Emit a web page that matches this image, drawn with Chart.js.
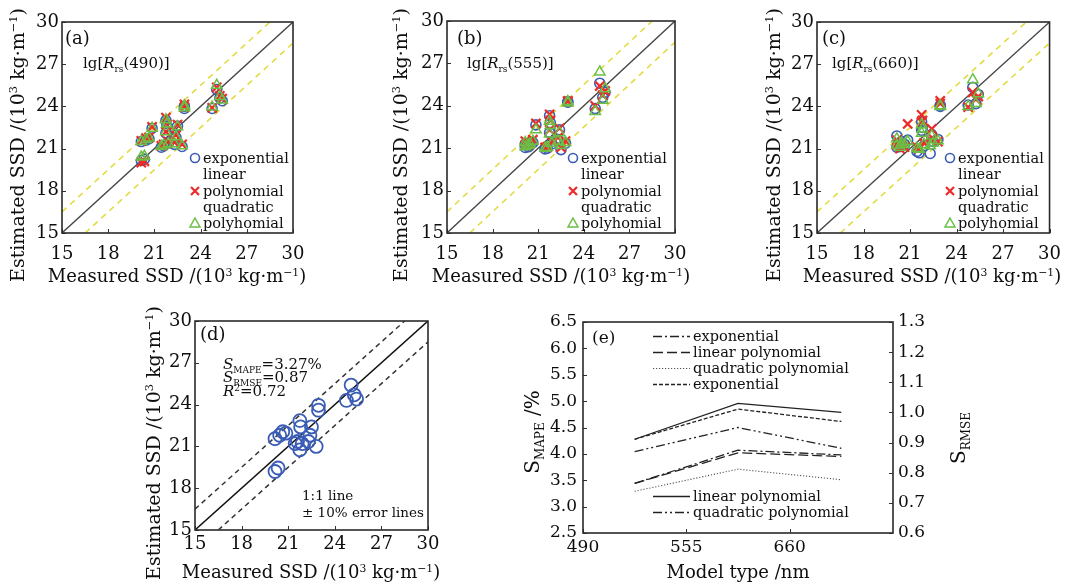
<!DOCTYPE html>
<html>
<head>
<meta charset="utf-8">
<title>SSD model comparison</title>
<script src="https://cdn.jsdelivr.net/npm/chart.js@4.4.1/dist/chart.umd.min.js"></script>
<style>
  html, body { margin: 0; padding: 0; background: #fff; }
  #page { position: relative; width: 1072px; height: 587px; overflow: hidden; background: #fff; }
  #page canvas { position: absolute; }
</style>
</head>
<body>
<div id="page">
  <canvas id="chartA" width="355" height="290" style="left:0;top:0"></canvas>
  <canvas id="chartB" width="355" height="290" style="left:355px;top:0"></canvas>
  <canvas id="chartC" width="362" height="290" style="left:710px;top:0"></canvas>
  <canvas id="chartD" width="320" height="297" style="left:140px;top:290px"></canvas>
  <canvas id="chartE" width="602" height="297" style="left:470px;top:290px"></canvas>
</div>
<script>
var FONT_FAMILY = '"DejaVu Serif", "Liberation Serif", serif';
var INK = '#0e0e0e';

// measured SSD of the samples, 10^3 kg/m (same samples in every panel)
var measured = [20.15, 20.45, 20.65, 20.85, 20.15, 20.35, 21.45, 21.6, 21.75, 21.75, 21.8,
                21.9, 22.3, 22.4, 22.5, 22.8, 22.95, 22.95, 24.75, 25.05, 25.25, 25.4];

// estimated SSD, lg[Rrs(490)] models
var exp490  = [21.5, 21.6, 21.7, 22.45, 20.15, 20.25, 21.1, 21.2, 22.1, 23.0, 22.6,
               21.4, 21.3, 21.8, 22.6, 21.15, 23.85, 24.0, 23.85, 25.2, 24.6, 24.4];
var lin490  = [21.55, 21.75, 21.8, 22.55, 20.0, 20.1, 21.2, 21.3, 22.2, 23.2, 22.7,
               21.5, 21.45, 21.95, 22.7, 21.3, 23.95, 24.15, 23.9, 25.35, 24.75, 24.55];
var quad490 = [21.5, 21.65, 21.75, 22.45, 20.4, 20.45, 21.15, 21.25, 22.2, 23.05, 22.75,
               21.35, 21.35, 21.85, 22.55, 21.2, 23.9, 24.05, 23.95, 25.5, 24.7, 24.45];

// lg[Rrs(555)] models
var exp555  = [21.3, 21.2, 21.4, 22.65, 21.05, 21.1, 20.95, 21.0, 22.1, 23.3, 22.8,
               21.3, 21.6, 22.3, 20.9, 21.35, 24.3, 24.25, 23.8, 25.6, 24.6, 24.95];
var lin555  = [21.5, 21.35, 21.6, 22.75, 21.2, 21.25, 21.05, 21.1, 22.3, 23.4, 22.95,
               21.45, 21.75, 22.4, 21.05, 21.5, 24.35, 24.3, 24.0, 25.4, 24.75, 25.05];
var quad555 = [21.4, 21.3, 21.5, 22.3, 21.1, 21.2, 21.0, 21.05, 22.0, 22.9, 22.6,
               21.35, 21.5, 22.1, 21.2, 21.4, 24.3, 24.2, 23.6, 26.4, 24.4, 25.2];

// lg[Rrs(660)] models
var exp660  = [21.9, 21.5, 21.3, 21.6, 21.1, 21.15, 20.8, 20.7, 22.3, 22.9, 22.5,
               21.2, 20.65, 22.0, 21.5, 21.65, 24.1, 24.0, 24.1, 25.35, 24.2, 24.85];
var lin660  = [21.6, 21.2, 21.1, 22.75, 21.3, 21.0, 21.1, 21.0, 22.9, 23.4, 23.0,
               21.4, 21.6, 22.4, 21.7, 21.5, 24.4, 24.2, 23.95, 25.0, 24.5, 24.7];
var quad660 = [21.7, 21.4, 21.3, 21.5, 21.25, 21.1, 21.0, 20.95, 22.1, 22.7, 22.4,
               21.3, 21.2, 21.9, 21.4, 21.55, 24.05, 24.0, 24.0, 25.9, 24.2, 24.9];

// (d) best model
var bestModel = [21.55, 21.8, 22.05, 21.95, 19.2, 19.45, 21.2, 21.35, 20.75, 22.85, 22.4,
                 21.2, 21.35, 21.8, 22.4, 21.0, 23.95, 23.6, 24.3, 25.4, 24.7, 24.4];

var ssdRange = [15, 30];
var ssdTicks = [15, 18, 21, 24, 27, 30];
var errorOffset = 1.5;

// (e) error statistics per band
var bands = ['490', '555', '660'];
var mapeExp  = [3.44, 4.07, 3.98];
var mapeLin  = [3.44, 4.02, 3.95];
var mapeQuad = [3.29, 3.71, 3.51];
var rmseExp  = [0.911, 1.011, 0.970];
var rmseLin  = [0.911, 1.030, 1.000];
var rmseQuad = [0.870, 0.950, 0.881];
var mapeTicks = [2.5, 3.0, 3.5, 4.0, 4.5, 5.0, 5.5, 6.0, 6.5];
var rmseTicks = [0.6, 0.7, 0.8, 0.9, 1.0, 1.1, 1.2, 1.3];

var BLUE = '#3a5cb5', RED = '#ec2a2a', GREEN = '#6abf45', YELLOW = '#e2dc44';

function pairs(ys) {
  return measured.map(function (x, i) { return { x: x, y: ys[i] }; });
}

function richText(ctx, segs, x, y, size, align, vertical) {
  var fontOf = function (k) {
    var px = (k === 'b' || k === 'p') ? size * 0.6 : size;
    return (k === 'i' ? 'italic ' : '') + px.toFixed(1) + 'px ' + FONT_FAMILY;
  };
  var width = 0;
  segs.forEach(function (s) { ctx.font = fontOf(s[1]); width += ctx.measureText(s[0]).width; });
  ctx.save();
  ctx.translate(x, y);
  if (vertical) ctx.rotate(-Math.PI / 2);
  ctx.fillStyle = INK;
  ctx.textBaseline = 'alphabetic';
  ctx.textAlign = 'left';
  var cx = align === 'center' ? -width / 2 : (align === 'right' ? -width : 0);
  var base = size * 0.36;
  segs.forEach(function (s) {
    ctx.font = fontOf(s[1]);
    var dy = s[1] === 'b' ? size * 0.22 : (s[1] === 'p' ? -size * 0.38 : 0);
    ctx.fillText(s[0], cx, base + dy);
    cx += ctx.measureText(s[0]).width;
  });
  ctx.restore();
}

function drawMark(ctx, kind, x, y) {
  ctx.save();
  ctx.beginPath();
  if (kind === 'circle') {
    ctx.strokeStyle = BLUE; ctx.lineWidth = 1.6;
    ctx.arc(x, y, 4.5, 0, Math.PI * 2);
  } else if (kind === 'cross') {
    ctx.strokeStyle = RED; ctx.lineWidth = 2.2;
    ctx.moveTo(x - 4, y - 4); ctx.lineTo(x + 4, y + 4);
    ctx.moveTo(x + 4, y - 4); ctx.lineTo(x - 4, y + 4);
  } else {
    ctx.strokeStyle = GREEN; ctx.lineWidth = 1.5;
    ctx.moveTo(x, y - 5); ctx.lineTo(x + 5, y + 4); ctx.lineTo(x - 5, y + 4); ctx.closePath();
  }
  ctx.stroke();
  ctx.restore();
}

function decor(cfg) {
  return {
    id: 'decor',
    afterDraw: function (chart) {
      var ctx = chart.ctx, a = chart.chartArea;
      ctx.save();
      ctx.strokeStyle = '#333'; ctx.lineWidth = 1;
      Object.keys(chart.scales).forEach(function (id) {
        var s = chart.scales[id];
        s.ticks.forEach(function (t) {
          var p = Math.round(s.getPixelForValue(t.value)) + 0.5;
          ctx.beginPath();
          if (s.isHorizontal()) { ctx.moveTo(p, a.bottom); ctx.lineTo(p, a.bottom - 4); }
          else if (s.position === 'left') { ctx.moveTo(a.left, p); ctx.lineTo(a.left + 4, p); }
          else { ctx.moveTo(a.right, p); ctx.lineTo(a.right - 4, p); }
          ctx.stroke();
        });
      });
      ctx.strokeStyle = '#2a2a2a'; ctx.lineWidth = 1.6;
      ctx.strokeRect(a.left, a.top, a.right - a.left, a.bottom - a.top);
      (cfg.texts || []).forEach(function (t) {
        richText(ctx, t.segs, t.x, t.y, t.size, t.align, t.vertical);
      });
      if (cfg.marks) {
        var m = cfg.marks;
        m.rows.forEach(function (r, i) {
          if (r.mark) drawMark(ctx, r.mark, m.markX, m.ys[i]);
          richText(ctx, [[r.text, '']], m.textX, m.ys[i], m.size);
        });
      }
      if (cfg.lines) {
        var l = cfg.lines;
        l.rows.forEach(function (r) {
          var ds = chart.data.datasets[r.ds];
          ctx.save();
          ctx.strokeStyle = ds.borderColor; ctx.lineWidth = ds.borderWidth;
          ctx.setLineDash(ds.borderDash || []);
          ctx.beginPath(); ctx.moveTo(l.x0, r.y + 0.5); ctx.lineTo(l.x1, r.y + 0.5); ctx.stroke();
          ctx.restore();
          richText(ctx, [[r.text, '']], l.textX, r.y, l.size);
        });
      }
      ctx.restore();
    }
  };
}

function ssdAxis(size, horizontal, pad) {
  return {
    type: 'linear', min: ssdRange[0], max: ssdRange[1],
    afterBuildTicks: function (s) { s.ticks = ssdTicks.map(function (v) { return { value: v }; }); },
    afterFit: function (s) { if (horizontal) s.height = size; else s.width = size; },
    grid: { display: false, drawTicks: false },
    border: { display: false },
    ticks: { padding: pad, color: INK, font: { family: FONT_FAMILY, size: 18 } }
  };
}

function guideSets(diagColor, diagWidth, dashColor, dashWidth, dash) {
  var lo = ssdRange[0], hi = ssdRange[1];
  var base = { showLine: true, pointRadius: 0, fill: false };
  return [
    Object.assign({ data: [{ x: lo, y: lo }, { x: hi, y: hi }],
      borderColor: diagColor, borderWidth: diagWidth, order: 10 }, base),
    Object.assign({ data: [{ x: lo, y: lo + errorOffset }, { x: hi - errorOffset, y: hi }],
      borderColor: dashColor, borderWidth: dashWidth, borderDash: dash, order: 11 }, base),
    Object.assign({ data: [{ x: lo + errorOffset, y: lo }, { x: hi, y: hi - errorOffset }],
      borderColor: dashColor, borderWidth: dashWidth, borderDash: dash, order: 12 }, base)
  ];
}

function modelSets(expY, linY, quadY) {
  return [
    { data: pairs(quadY), pointStyle: 'triangle', pointRadius: 6, borderColor: GREEN,
      backgroundColor: 'rgba(0,0,0,0)', borderWidth: 1.5, order: 1 },
    { data: pairs(linY), pointStyle: 'crossRot', pointRadius: 6.5, borderColor: RED,
      backgroundColor: 'rgba(0,0,0,0)', borderWidth: 2.2, order: 2 },
    { data: pairs(expY), pointStyle: 'circle', pointRadius: 5, borderColor: BLUE,
      backgroundColor: 'rgba(0,0,0,0)', borderWidth: 1.6, order: 3 }
  ];
}

function ssdPanel(id, datasets, box, cfg) {
  return new Chart(document.getElementById(id), {
    type: 'scatter',
    data: { datasets: datasets },
    options: {
      responsive: false, animation: false, devicePixelRatio: 1,
      layout: { padding: { top: box.top, right: box.right, left: 0, bottom: 0 } },
      scales: {
        x: ssdAxis(box.xh, true, box.xpad),
        y: ssdAxis(box.yw, false, box.ypad)
      },
      plugins: { legend: { display: false }, tooltip: { enabled: false } }
    },
    plugins: [decor(cfg)]
  });
}

var EST_TITLE = [['Estimated SSD /(10', ''], ['3', 'p'], [' kg\u00b7m', ''], ['\u22121', 'p'], [')', '']];
var MEAS_TITLE = [['Measured SSD /(10', ''], ['3', 'p'], [' kg\u00b7m', ''], ['\u22121', 'p'], [')', '']];
var modelRows = [
  { text: 'exponential', mark: 'circle' }, { text: 'linear' },
  { text: 'polynomial', mark: 'cross' }, { text: 'quadratic' },
  { text: 'polyhomial', mark: 'triangle' }
];
function lgLabel(band) { return [['lg[', ''], ['R', 'i'], ['rs', 'b'], ['(' + band + ')]', '']]; }

function topPanel(id, tag, band, sets, box, pos) {
  ssdPanel(id, guideSets('#444', 1.3, YELLOW, 1.6, [6, 5]).concat(sets), box, {
    texts: [
      { segs: [['(' + tag + ')', '']], x: pos.tagX, y: 38, size: 18 },
      { segs: lgLabel(band), x: pos.lgX, y: 63, size: 15 },
      { segs: EST_TITLE, x: pos.yTitleX, y: 145, size: 19, align: 'center', vertical: true },
      { segs: MEAS_TITLE, x: pos.xTitleX, y: 276, size: 18, align: 'center' }
    ],
    marks: { rows: modelRows, markX: pos.markX, textX: pos.markX + 8, ys: [158, 174, 191, 207, 223], size: 14.5 }
  });
}

topPanel('chartA', 'a', '490', modelSets(exp490, lin490, quad490),
  { top: 22, right: 62, xh: 57, yw: 62, xpad: 11, ypad: 3 },
  { tagX: 65, lgX: 83, yTitleX: 17, xTitleX: 177, markX: 195 });
topPanel('chartB', 'b', '555', modelSets(exp555, lin555, quad555),
  { top: 21, right: 35, xh: 57, yw: 92, xpad: 11, ypad: 3 },
  { tagX: 102, lgX: 112, yTitleX: 45, xTitleX: 206, markX: 218 });
topPanel('chartC', 'c', '660', modelSets(exp660, lin660, quad660),
  { top: 22, right: 15, xh: 57, yw: 107, xpad: 11, ypad: 3 },
  { tagX: 112, lgX: 122, yTitleX: 63, xTitleX: 222, markX: 240 });

// (d) best model
ssdPanel('chartD', guideSets('#111', 1.5, '#333', 1.5, [5, 4]).concat([
  { data: pairs(bestModel), pointStyle: 'circle', pointRadius: 6.5, borderColor: BLUE,
    backgroundColor: 'rgba(0,0,0,0)', borderWidth: 1.8, order: 1 }
]), { top: 31, right: 32, xh: 57, yw: 55, xpad: 4, ypad: 3 }, {
  texts: [
    { segs: [['(d)', '']], x: 60, y: 44, size: 18 },
    { segs: [['S', 'i'], ['MAPE', 'b'], ['=3.27%', '']], x: 83, y: 74, size: 15 },
    { segs: [['S', 'i'], ['RMSE', 'b'], ['=0.87', '']], x: 83, y: 87, size: 15 },
    { segs: [['R', 'i'], ['2', 'p'], ['=0.72', '']], x: 83, y: 101, size: 15 },
    { segs: [['1:1 line', '']], x: 162, y: 205, size: 13.5 },
    { segs: [['\u00b1 10% error lines', '']], x: 162, y: 222, size: 13.5 },
    { segs: EST_TITLE, x: 13, y: 153, size: 19, align: 'center', vertical: true },
    { segs: MEAS_TITLE, x: 171, y: 282, size: 18, align: 'center' }
  ]
});

// (e) error statistics
function statSet(vals, axis, dash, color, width) {
  return {
    data: vals.map(function (v, i) { return { x: i + 0.5, y: v }; }),
    yAxisID: axis, borderColor: color, borderWidth: width, borderDash: dash,
    pointRadius: 0, tension: 0, fill: false
  };
}
var tickFontE = { family: FONT_FAMILY, size: 17 };
new Chart(document.getElementById('chartE'), {
  type: 'line',
  data: {
    datasets: [
      statSet(mapeExp, 'yL', [9, 3, 2, 3], '#222', 1.3),
      statSet(mapeLin, 'yL', [10, 4], '#222', 1.3),
      statSet(mapeQuad, 'yL', [1.2, 1.8], '#555', 1.1),
      statSet(rmseExp, 'yR', [4, 2], '#222', 1.3),
      statSet(rmseLin, 'yR', [], '#222', 1.3),
      statSet(rmseQuad, 'yR', [9, 3, 2, 3, 2, 3], '#222', 1.3)
    ]
  },
  options: {
    responsive: false, animation: false, devicePixelRatio: 1,
    layout: { padding: { top: 32, right: 0, left: 0, bottom: 0 } },
    scales: {
      x: {
        type: 'linear', min: 0, max: bands.length,
        afterBuildTicks: function (s) { s.ticks = bands.map(function (b, i) { return { value: i }; }); },
        afterFit: function (s) { s.height = 54; },
        grid: { display: false, drawTicks: false }, border: { display: false },
        ticks: { padding: 4, color: INK, font: tickFontE,
          callback: function (v) { return bands[v] || ''; } }
      },
      yL: {
        type: 'linear', position: 'left', min: mapeTicks[0], max: mapeTicks[mapeTicks.length - 1],
        afterBuildTicks: function (s) { s.ticks = mapeTicks.map(function (v) { return { value: v }; }); },
        afterFit: function (s) { s.width = 113; },
        grid: { display: false, drawTicks: false }, border: { display: false },
        ticks: { padding: 6, color: INK, font: tickFontE,
          callback: function (v) { return Number(v).toFixed(1); } }
      },
      yR: {
        type: 'linear', position: 'right', min: rmseTicks[0], max: rmseTicks[rmseTicks.length - 1],
        afterBuildTicks: function (s) { s.ticks = rmseTicks.map(function (v) { return { value: v }; }); },
        afterFit: function (s) { s.width = 179; },
        grid: { display: false, drawTicks: false }, border: { display: false },
        ticks: { padding: 5, color: INK, font: tickFontE,
          callback: function (v) { return Number(v).toFixed(1); } }
      }
    },
    plugins: { legend: { display: false }, tooltip: { enabled: false } }
  },
  plugins: [decor({
    texts: [
      { segs: [['(e)', '']], x: 122, y: 47, size: 17 },
      { segs: [['S', ''], ['MAPE', 'b'], [' /%', '']], x: 62, y: 142, size: 20, align: 'center', vertical: true },
      { segs: [['S', ''], ['RMSE', 'b']], x: 488, y: 148, size: 20, align: 'center', vertical: true },
      { segs: [['Model type /nm', '']], x: 268, y: 282, size: 18, align: 'center' }
    ],
    lines: {
      x0: 183, x1: 220, textX: 223, size: 14.5,
      rows: [
        { ds: 0, text: 'exponential', y: 46 },
        { ds: 1, text: 'linear polynomial', y: 62 },
        { ds: 2, text: 'quadratic polynomial', y: 78 },
        { ds: 3, text: 'exponential', y: 94 },
        { ds: 4, text: 'linear polynomial', y: 206 },
        { ds: 5, text: 'quadratic polynomial', y: 222 }
      ]
    }
  })]
});
</script>
</body>
</html>
